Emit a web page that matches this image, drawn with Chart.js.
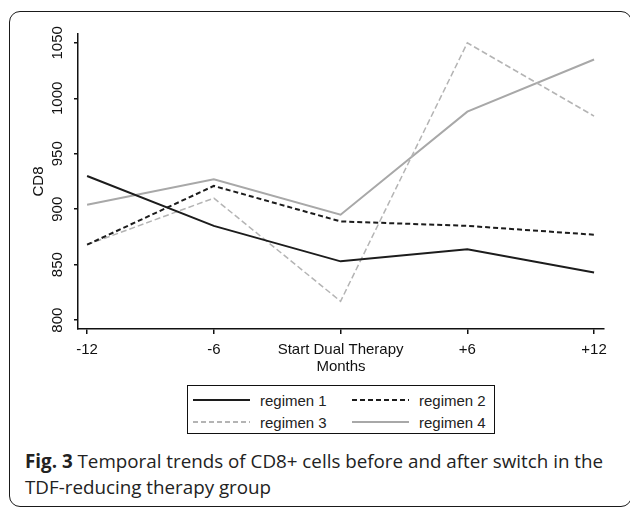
<!DOCTYPE html>
<html>
<head>
<meta charset="utf-8">
<script src="https://cdn.jsdelivr.net/npm/chart.js@4.4.1/dist/chart.umd.min.js"></script>
<style>
  body { margin: 0; background: #fff; overflow: hidden; width: 630px; height: 508px; position: relative; }
  #frame {
    position: absolute; left: 9px; top: 11px; width: 623px; height: 496px;
    box-sizing: border-box; border: 1.8px solid #1a1a1a; border-radius: 11px;
  }
  #wrap { position: absolute; left: 0; top: 0; width: 630px; height: 380px; }
  #legend {
    position: absolute; left: 187px; top: 385px; width: 308px; height: 49px;
    box-sizing: border-box; border: 1.5px solid #111;
    font: 15px "Liberation Sans", Arial, sans-serif; color: #222;
  }
  .item { position: absolute; display: flex; align-items: center; height: 20px; }
  .sample { width: 57px; height: 2px; margin-right: 10px; }
  #caption {
    position: absolute; left: 25px; top: 448px; width: 604px;
    font: 18.8px "Open Sans", sans-serif; line-height: 26px; color: #222;
  }
  #caption b { font-weight: 700; }
</style>
</head>
<body>
<div id="frame"></div>
<div id="wrap"><canvas id="myChart" width="630" height="380"></canvas></div>
<div id="legend"></div>
<div id="caption"><b>Fig. 3</b> Temporal trends of CD8+ cells before and after switch in the<br>TDF-reducing therapy group</div>
<script>
"use strict";
const months = [-12, -6, 0, 6, 12];
const monthLabels = ["-12", "-6", "Start Dual Therapy", "+6", "+12"];
const yTicks = [800, 850, 900, 950, 1000, 1050];
const regimen1 = [930, 885, 853, 864, 843];
const regimen2 = [868, 921, 889, 885, 877];
const regimen3 = [868, 910, 817, 1050, 984];
const regimen4 = [904, 927, 895, 988, 1035];

const font = { family: "'Liberation Sans', Arial, sans-serif", size: 15 };

const line = (label, values, color, width, dash) => ({
  label,
  data: values.map((v, i) => ({ x: months[i], y: v })),
  borderColor: color,
  backgroundColor: color,
  borderWidth: width,
  borderDash: dash,
  pointRadius: 0,
  tension: 0,
});

// legend drawn as html below the plot, 2 columns with a frame
const htmlLegend = {
  id: "htmlLegend",
  afterUpdate(chart) {
    const box = document.getElementById("legend");
    box.innerHTML = "";
    chart.data.datasets.forEach((ds, i) => {
      const item = document.createElement("div");
      item.className = "item";
      item.style.left = 5 + (i % 2) * 159 + "px";
      item.style.top = 4 + Math.floor(i / 2) * 22 + "px";
      const sample = document.createElement("span");
      sample.className = "sample";
      sample.style.height = ds.borderWidth + "px";
      sample.style.background = ds.borderDash.length
        ? `repeating-linear-gradient(90deg, ${ds.borderColor} 0 5px, transparent 5px 8px)`
        : ds.borderColor;
      const text = document.createElement("span");
      text.textContent = ds.label;
      item.append(sample, text);
      box.appendChild(item);
    });
  },
};

const ctx = document.getElementById("myChart");

new Chart(ctx, {
  type: "line",
  data: {
    datasets: [
      line("regimen 1", regimen1, "#1c1c1c", 2, []),
      line("regimen 2", regimen2, "#1c1c1c", 2, [5, 3]),
      line("regimen 3", regimen3, "#b4b4b4", 1.5, [6, 3]),
      line("regimen 4", regimen4, "#a8a8a8", 2, []),
    ],
  },
  options: {
    responsive: false,
    animation: false,
    devicePixelRatio: 1,
    layout: { padding: { left: 30, top: 34, right: 26, bottom: 4 } },
    plugins: {
      legend: { display: false },
      tooltip: { enabled: false },
    },
    scales: {
      x: {
        type: "linear",
        min: -12.43,
        max: 12.47,
        afterBuildTicks: (axis) => {
          axis.ticks = months.map((v) => ({ value: v }));
        },
        ticks: {
          color: "#111",
          font,
          padding: 7,
          maxRotation: 0,
          autoSkip: false,
          callback: (v) => monthLabels[months.indexOf(v)],
        },
        grid: { drawOnChartArea: false, drawTicks: true, tickLength: 5, color: "#111", lineWidth: 1.5 },
        border: { display: true, color: "#111", width: 1.5 },
        title: { display: true, text: "Months", color: "#111", font, padding: { top: -8, bottom: 0 } },
      },
      y: {
        min: 792,
        max: 1058,
        afterBuildTicks: (axis) => {
          axis.ticks = yTicks.map((v) => ({ value: v }));
        },
        ticks: {
          color: "#111",
          font,
          padding: -1,
          minRotation: 90,
          maxRotation: 90,
          crossAlign: "center",
          callback: (v) => String(v),
        },
        grid: { drawOnChartArea: false, drawTicks: true, tickLength: 4, color: "#111", lineWidth: 1.5 },
        border: { display: true, color: "#111", width: 1.5 },
        title: { display: true, text: "CD8", color: "#111", font, padding: { top: 0, bottom: 10 } },
      },
    },
  },
  plugins: [htmlLegend],
});
</script>
</body>
</html>
